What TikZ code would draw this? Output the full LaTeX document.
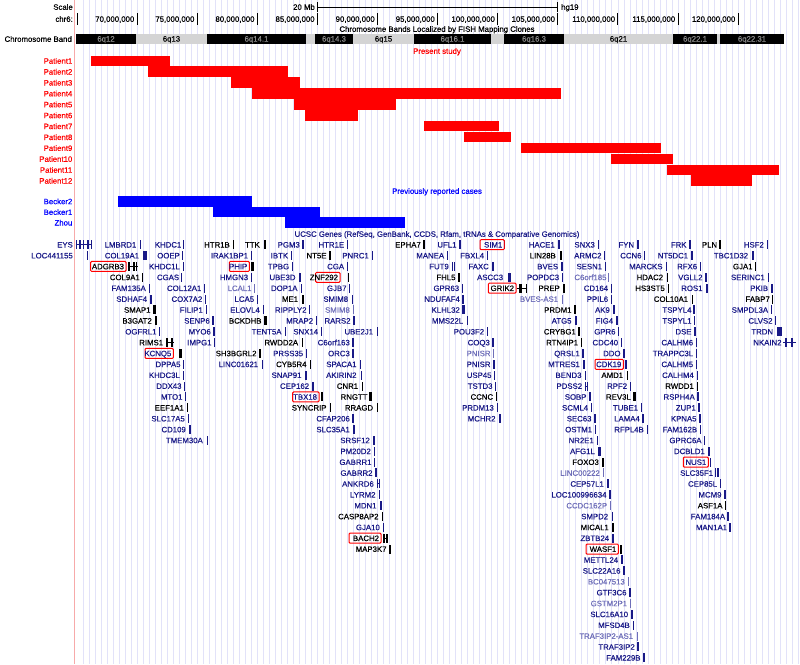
\documentclass[tikz,border=0pt]{standalone}
\usepackage{fontspec}
\setmainfont{Liberation Sans}[FakeBold=0.4]
\definecolor{nv}{RGB}{25,25,135}
\definecolor{lt}{RGB}{110,110,185}
\definecolor{bk}{RGB}{0,0,0}
\definecolor{gridc}{RGB}{226,226,249}
\definecolor{pinkc}{RGB}{247,170,170}
\definecolor{bandgr}{RGB}{212,212,212}
\definecolor{bandtx}{RGB}{140,140,140}
\tikzset{gl/.style={font=\fontsize{7.8}{9}\selectfont, inner sep=0pt, anchor=east, text height=5.6pt, text depth=0pt},
 ct/.style={gl, anchor=center}}
\newcommand\gene[6]{%
  \pgfmathsetmacro\gy{244.7+10.87*(#1)}%
  \node[gl,text=#3] at (#2,\gy) {#4};%
  \fill[#3] (#5,\gy-4.5) rectangle (#5+#6,\gy+4.5);%
}
\newcommand\gbox[8]{%
  \pgfmathsetmacro\gy{244.7+10.87*(#1)}%
  \draw[red, line width=1pt, rounded corners=1pt] (#2,\gy-5) rectangle (#3,\gy+5);%
  \node[gl,text=#4] at (#3-1.8,\gy) {#5};%
  \fill[#8] (#6,\gy-4.5) rectangle (#6+#7,\gy+4.5);%
}
\newcommand\gbar[4]{%
  \pgfmathsetmacro\gy{244.7+10.87*(#1)}%
  \fill[#4] (#2,\gy-4.5) rectangle (#2+#3,\gy+4.5);%
}
\newcommand\gline[4]{%
  \pgfmathsetmacro\gy{244.7+10.87*(#1)}%
  \draw[#4, line width=0.8pt] (#2,\gy) -- (#3,\gy);%
}
\begin{document}
\begin{tikzpicture}[x=1pt,y=-1pt]
\useasboundingbox (0,0) rectangle (800,664);
\fill[white] (0,0) rectangle (800,664);
% grid
\foreach \k in {1,...,120} { \draw[gridc, line width=0.8pt] (77+6.01*\k,0) -- (77+6.01*\k,664); }
\draw[pinkc, line width=1pt] (74.5,0) -- (74.5,664);
% header
\node[gl] (scl) at (73,7) {Scale};
\node[gl] (chr) at (73,19) {chr6:};
\coordinate (sb1) at (317.3,7); \coordinate (sb2) at (557.7,7);
\draw[line width=0.8pt] (sb1) -- (sb2);
\draw[line width=0.8pt] (317.3,2) -- (317.3,12);
\draw[line width=0.8pt] (557.7,2) -- (557.7,12);
\node[gl] (mb) at (315,7) {20 Mb};
\node[gl, anchor=west] (hg) at (561,7) {hg19};
\draw[line width=0.8pt] (77,13) -- (77,25);
\foreach \k/\lab in {0/70,1/75,2/80,3/85,4/90,5/95,6/100,7/105,8/110,9/115,10/120} {
  \pgfmathsetmacro\tx{137+60.1*\k}
  \draw[line width=0.8pt] (\tx,13) -- (\tx,25);
  \node[gl] at (\tx-2.5,19) {\lab,000,000};
}
\node[ct] (fish) at (437,29) {Chromosome Bands Localized by FISH Mapping Clones};
\node[gl] (cband) at (72,39) {Chromosome Band};
\foreach \a/\b/\c/\t/\l in {76/136/black/bandtx/6q12, 136/207/bandgr/black/6q13, 207/306/black/bandtx/6q14.1, 306/315/bandgr/black/, 315/353/black/bandtx/6q14.3, 353/414/bandgr/black/6q15, 414/491/black/bandtx/6q16.1, 491/504/bandgr/black/, 504/564/black/bandtx/6q16.3, 564/673/bandgr/black/6q21, 673/717/black/bandtx/6q22.1, 717/720/bandgr/black/, 720/784/black/bandtx/6q22.31} {
  \fill[\c] (\a,33.5) rectangle (\b,44);
  \node[ct, text=\t] at ({(\a+\b)/2},38.8) {\l};
}
\node[ct, text=red] (present) at (437,51) {Present study};
% patients
\foreach \i/\a/\b in {1/90.8/170.3, 2/148/288, 3/230.8/300, 4/252.3/560.5, 5/293.8/395.9, 6/305/358, 7/423.6/498.5, 8/463.6/511.3, 9/520.5/660.5, 10/610.8/673, 11/666.7/779, 12/691.3/752} {
  \pgfmathsetmacro\ty{55.5+10.9*(\i-1)}
  \fill[red] (\a,\ty) rectangle (\b,\ty+10.5);
  \node[gl, text=red] at (72.5,\ty+5.4) {Patient\i};
}
\node[ct, text=blue] (prev) at (437,191) {Previously reported cases};
\foreach \n/\a/\b/\ty in {Becker2/118/252.3/196, Becker1/212.8/319.5/206.7, Zhou/284.6/404.6/217.3} {
  \fill[blue] (\a,\ty) rectangle (\b,\ty+10.6);
  \node[gl, text=blue] at (72.5,\ty+5.4) {\n};
}
\node[ct, text=nv] (ucsc) at (437,234) {UCSC Genes (RefSeq, GenBank, CCDS, Rfam, tRNAs \& Comparative Genomics)};
% ---------- genes column A
\gene{0}{73}{nv}{EYS}{75.5}{1.5}
\gline{0}{75.5}{92}{nv}\gbar{0}{79.3}{1.5}{nv}\gbar{0}{82.7}{1.3}{nv}\gbar{0}{87}{1.5}{nv}\gbar{0}{90.5}{1.5}{nv}
\gene{1}{73}{nv}{LOC441155}{86.5}{1}
\gene{0}{136.5}{nv}{LMBRD1}{139.5}{1.5}
\gene{1}{139.3}{nv}{COL19A1}{143}{4}
\gbox{2}{90.7}{126}{bk}{ADGRB3}{128}{1.5}{bk}
\gline{2}{127.5}{137.5}{bk}\gbar{2}{133}{1.5}{bk}\gbar{2}{135.8}{1.5}{bk}
\gene{0}{181.5}{nv}{KHDC1}{183}{1.3}
\gene{1}{180}{nv}{OOEP}{182}{1.3}
\gene{2}{180}{nv}{KHDC1L}{182.5}{1.3}
\gene{3}{140}{bk}{COL9A1}{142}{1.3}
\gene{3}{179.3}{nv}{CGAS}{181}{1.3}
\gene{4}{146}{nv}{FAM135A}{148.5}{1.5}
\gene{4}{201.5}{nv}{COL12A1}{204}{1.3}
\gene{5}{147.3}{nv}{SDHAF4}{150}{1.5}
\gene{5}{202.5}{nv}{COX7A2}{205}{1.3}
\gene{6}{150.7}{bk}{SMAP1}{153}{2.5}
\gene{6}{203}{nv}{FILIP1}{206}{1.3}
\gene{7}{152}{bk}{B3GAT2}{155}{1.8}
\gene{7}{210}{nv}{SENP6}{212.3}{1.5}
\gene{8}{156.7}{nv}{OGFRL1}{159}{1.3}
\gene{8}{211}{nv}{MYO6}{213.3}{1.3}
\gene{9}{163.3}{bk}{RIMS1}{166}{2}
\gline{9}{166}{173.5}{bk}\gbar{9}{170.5}{2.5}{bk}
\gene{9}{211.7}{nv}{IMPG1}{214}{1.3}
\gbox{10}{145}{173.3}{nv}{KCNQ5}{179}{3}{bk}
\gene{11}{180.7}{nv}{DPPA5}{183}{1.3}
\gene{12}{180}{nv}{KHDC3L}{182.7}{1.3}
\gene{13}{181.7}{nv}{DDX43}{183.5}{1.3}
\gene{14}{182.7}{nv}{MTO1}{185}{1.3}
\gene{15}{184}{bk}{EEF1A1}{186.7}{1.3}
\gene{16}{185}{nv}{SLC17A5}{187.7}{1.3}
\gene{17}{186}{nv}{CD109}{188.7}{2.5}
\gene{18}{203}{nv}{TMEM30A}{206.5}{1.3}
% ---------- column B/C
\gene{0}{230}{bk}{HTR1B}{233}{1.3}
\gene{0}{260}{bk}{TTK}{263.5}{2}
\gene{0}{300}{nv}{PGM3}{302.3}{1.3}
\gene{0}{344.3}{nv}{HTR1E}{347}{1.3}
\gene{1}{248.3}{nv}{IRAK1BP1}{250.7}{1.3}
\gene{1}{288.3}{nv}{IBTK}{290.7}{1.3}
\gene{1}{326.7}{bk}{NT5E}{329.3}{1.3}
\gene{1}{369}{nv}{PNRC1}{371.7}{1.3}
\gbox{2}{229.3}{249.3}{nv}{PHIP}{251}{2.5}{bk}
\gene{2}{289.3}{nv}{TPBG}{291.7}{1.3}
\gene{2}{344.3}{nv}{CGA}{347}{1.3}
\gene{3}{248.3}{nv}{HMGN3}{250.7}{1.3}
\gene{3}{295.7}{nv}{UBE3D}{298.5}{2.5}
\gbox{3}{315.7}{340}{bk}{ZNF292}{347.5}{1.5}{bk}
\gene{4}{251.7}{lt}{LCAL1}{254.3}{1}
\gene{4}{297.7}{nv}{DOP1A}{300.7}{1.3}
\gene{4}{346.7}{nv}{GJB7}{349}{1.3}
\gene{5}{254.3}{nv}{LCA5}{257}{1.3}
\gene{5}{298.3}{bk}{ME1}{301.7}{2.7}
\gene{5}{348.3}{nv}{SMIM8}{351.5}{1.3}
\gene{6}{260}{nv}{ELOVL4}{262.7}{1.3}
\gene{6}{306.7}{nv}{RIPPLY2}{309}{1.3}
\gene{6}{350}{lt}{SMIM8}{353.3}{1}
\gene{7}{261.7}{bk}{BCKDHB}{264}{3}
\gene{7}{313.3}{nv}{MRAP2}{315.7}{1.3}
\gene{7}{350.7}{nv}{RARS2}{353.3}{1.3}
\gene{8}{281.7}{nv}{TENT5A}{285}{1.3}
\gene{8}{318.3}{nv}{SNX14}{321}{1.3}
\gene{8}{373.3}{nv}{UBE2J1}{376.7}{1.3}
\gene{9}{298.3}{bk}{RWDD2A}{301.7}{1.3}
\gene{9}{350}{nv}{C6orf163}{352.3}{1.3}
\gene{10}{256.7}{bk}{SH3BGRL2}{259.3}{1.3}
\gene{10}{303.3}{nv}{PRSS35}{306}{1.3}
\gene{10}{350}{nv}{ORC3}{352.3}{1.3}
\gene{11}{258.3}{nv}{LINC01621}{261.7}{1.3}
\gene{11}{306.7}{bk}{CYB5R4}{310}{1.3}
\gene{11}{356.7}{nv}{SPACA1}{360}{1.3}
\gene{12}{301.7}{nv}{SNAP91}{305}{2}
\gene{12}{356.7}{nv}{AKIRIN2}{360.5}{1.3}
\gene{13}{309.3}{nv}{CEP162}{312.3}{1.3}
\gene{13}{358.3}{bk}{CNR1}{361.7}{1.3}
\gbox{14}{292.7}{319}{nv}{TBX18}{320.5}{2}{bk}
\gene{14}{367.7}{bk}{RNGTT}{369}{3}
\gene{15}{326.7}{bk}{SYNCRIP}{330}{1.3}
\gene{15}{373.3}{bk}{RRAGD}{376.7}{1.3}
\gene{16}{350}{nv}{CFAP206}{352.3}{1.3}
\gene{17}{350}{nv}{SLC35A1}{353.3}{1.3}
\gene{18}{370}{nv}{SRSF12}{373.3}{1.3}
\gene{19}{371}{nv}{PM20D2}{373.8}{1.3}
\gene{20}{371.7}{nv}{GABRR1}{374}{1.3}
\gene{21}{372.7}{nv}{GABRR2}{375.3}{1.3}
\gene{22}{374}{nv}{ANKRD6}{377}{1}
\gline{22}{376.5}{380}{nv}\gbar{22}{379}{1}{nv}
\gene{23}{375.7}{nv}{LYRM2}{378.7}{1.3}
\gene{24}{376.7}{nv}{MDN1}{379.5}{2}
\gene{25}{378.7}{bk}{CASP8AP2}{381.7}{1.3}
\gene{26}{380}{nv}{GJA10}{382.7}{1.3}
\gbox{27}{349}{381}{bk}{BACH2}{383.3}{1.5}{bk}
\gline{27}{383.3}{387.5}{bk}\gbar{27}{386}{1.5}{bk}
\gene{28}{386.7}{bk}{MAP3K7}{389.3}{1.5}
% ---------- column D
\gene{0}{421}{bk}{EPHA7}{422.5}{2.5}
\gene{0}{456.7}{nv}{UFL1}{459.3}{1.3}
\gbox{0}{480}{504.3}{nv}{SIM1}{504}{0}{nv}
\gene{1}{444.3}{nv}{MANEA}{447}{1.3}
\gene{1}{484.3}{nv}{FBXL4}{486.7}{1.3}
\gene{2}{449}{nv}{FUT9}{451.5}{1.5}
\gbar{2}{454}{1}{nv}
\gene{2}{489}{nv}{FAXC}{491.5}{2}
\gene{3}{455.7}{bk}{FHL5}{458.3}{1.3}
\gene{3}{503.3}{nv}{ASCC3}{507.7}{3.3}
\gene{4}{459.3}{nv}{GPR63}{461.7}{1.3}
\gbox{4}{488.3}{516}{bk}{GRIK2}{519}{3}{bk}
\gline{4}{516.5}{527}{bk}\gbar{4}{526}{1}{bk}
\gene{5}{460}{nv}{NDUFAF4}{462.3}{1.3}
\gene{6}{460}{nv}{KLHL32}{462.3}{2.5}
\gene{7}{463.3}{nv}{MMS22L}{466.7}{1.5}
\gene{8}{484.3}{nv}{POU3F2}{486.7}{1.3}
\gene{9}{490}{nv}{COQ3}{492.3}{1.5}
\gene{10}{490.7}{lt}{PNISR}{492.7}{1}
\gene{11}{490.7}{nv}{PNISR}{493.3}{1.3}
\gene{12}{491.7}{nv}{USP45}{494}{1.3}
\gene{13}{492.7}{nv}{TSTD3}{495}{1.3}
\gene{14}{493.3}{bk}{CCNC}{495.7}{1.5}
\gene{15}{494}{nv}{PRDM13}{496.7}{1.3}
\gene{16}{495.7}{nv}{MCHR2}{499}{1.5}
% ---------- column E
\gene{0}{555}{nv}{HACE1}{557.7}{2.5}
\gene{1}{556}{bk}{LIN28B}{559.5}{2.5}
\gene{2}{558.3}{nv}{BVES}{561}{1.5}
\gene{3}{559.3}{nv}{POPDC3}{561.7}{1.3}
\gene{4}{560}{bk}{PREP}{562.7}{2.5}
\gene{5}{558.3}{lt}{BVES-AS1}{561.7}{1}
\gene{6}{571.7}{bk}{PRDM1}{574.3}{1.3}
\gene{7}{571.7}{nv}{ATG5}{575}{1.5}
\gene{8}{576}{bk}{CRYBG1}{578.3}{1.3}
\gene{9}{578.3}{bk}{RTN4IP1}{581}{1.3}
\gene{10}{580}{nv}{QRSL1}{582.3}{1.3}
\gene{11}{580}{nv}{MTRES1}{583.3}{1.3}
\gene{12}{581.7}{nv}{BEND3}{585}{1.3}
\gene{13}{582.3}{nv}{PDSS2}{584.5}{1}
\gline{13}{584.5}{587.5}{nv}\gbar{13}{586.5}{1}{nv}
\gene{14}{586.7}{nv}{SOBP}{589.3}{1.5}
\gene{15}{588.3}{nv}{SCML4}{591}{1.3}
\gene{16}{591.7}{nv}{SEC63}{594.3}{1.3}
\gene{17}{592.3}{nv}{OSTM1}{595}{1.3}
\gene{18}{594}{nv}{NR2E1}{596.7}{1.3}
\gene{19}{595}{nv}{AFG1L}{598}{2.5}
\gene{20}{599}{bk}{FOXO3}{601.5}{2}
\gene{21}{600}{lt}{LINC00222}{603.3}{1}
\gene{22}{604}{nv}{CEP57L1}{607.3}{1.3}
\gene{23}{606.7}{nv}{LOC100996634}{609.3}{1.3}
\gene{24}{607.3}{lt}{CCDC162P}{610}{1}
\gene{25}{608.3}{nv}{SMPD2}{611.7}{1.3}
\gene{26}{609}{bk}{MICAL1}{612.3}{1.3}
\gene{27}{609.3}{nv}{ZBTB24}{612.3}{1.3}
\gbox{28}{586}{618.3}{bk}{WASF1}{620}{1.5}{bk}
\gene{29}{618.3}{nv}{METTL24}{621}{2}
\gene{30}{620.7}{nv}{SLC22A16}{623.3}{1.5}
\gene{31}{625}{lt}{BC047513}{628.3}{1}
\gene{32}{626.7}{nv}{GTF3C6}{629.3}{1.3}
\gene{33}{627.3}{lt}{GSTM2P1}{630}{1}
\gene{34}{628.3}{nv}{SLC16A10}{631}{2}
\gene{35}{630}{nv}{MFSD4B}{632.7}{1.3}
\gene{36}{633.3}{lt}{TRAF3IP2-AS1}{636.7}{1}
\gene{37}{635}{nv}{TRAF3IP2}{636.7}{2}
\gene{38}{640.7}{nv}{FAM229B}{643.3}{1.3}
\gene{0}{595}{nv}{SNX3}{597.7}{1.3}
\gene{1}{601.7}{nv}{ARMC2}{604}{1.3}
\gene{2}{602.3}{nv}{SESN1}{605}{1.3}
\gene{3}{606.7}{lt}{C6orf185}{608.3}{1}
\gene{4}{608.3}{nv}{CD164}{611}{1.3}
\gene{5}{608.3}{nv}{PPIL6}{611}{1.3}
\gene{6}{610}{nv}{AK9}{612.5}{2}
\gene{7}{613.3}{nv}{FIG4}{615.5}{2}
\gene{8}{615.7}{nv}{GPR6}{617.7}{1.3}
\gene{9}{618.3}{nv}{CDC40}{621}{1.3}
\gene{10}{620.7}{nv}{DDO}{623.3}{1.3}
\gbox{11}{595}{623.3}{nv}{CDK19}{624.5}{2.5}{nv}
\gene{12}{623.3}{bk}{AMD1}{626.7}{1.3}
\gene{13}{627.3}{nv}{RPF2}{630}{1.3}
\gene{14}{631}{bk}{REV3L}{633.3}{2.5}
\gene{15}{638.3}{nv}{TUBE1}{641}{1.3}
\gene{16}{640}{nv}{LAMA4}{642.3}{2}
\gene{17}{644}{nv}{RFPL4B}{646.7}{1.3}
\gene{0}{634.3}{nv}{FYN}{637.3}{1.3}
\gene{1}{641.7}{nv}{CCN6}{644}{1.3}
\gene{2}{662.7}{nv}{MARCKS}{666}{1.3}
\gene{3}{663.3}{bk}{HDAC2}{666.7}{1.3}
\gene{4}{665}{bk}{HS3ST5}{667.7}{1.3}
% ---------- column F
\gene{0}{686.7}{nv}{FRK}{689}{2}
\gene{0}{717.3}{bk}{PLN}{719.3}{1.3}
\gene{0}{764}{nv}{HSF2}{766.7}{1.3}
\gene{1}{688.3}{nv}{NT5DC1}{691}{1.5}
\gene{1}{748.3}{nv}{TBC1D32}{751.7}{2.5}
\gene{2}{697.3}{nv}{RFX6}{700}{1.3}
\gene{2}{752.7}{bk}{GJA1}{755}{1.3}
\gene{3}{702.7}{nv}{VGLL2}{705.3}{1.3}
\gene{3}{765}{nv}{SERINC1}{767.7}{1.3}
\gene{4}{702.7}{nv}{ROS1}{706}{2.3}
\gene{4}{768.3}{nv}{PKIB}{770.5}{2}
\gene{5}{688.3}{bk}{COL10A1}{691.7}{1.3}
\gene{5}{770}{bk}{FABP7}{772}{1.3}
\gene{6}{691.7}{nv}{TSPYL4}{693.3}{1.3}
\gene{6}{768.3}{nv}{SMPDL3A}{771}{1.3}
\gene{7}{691.7}{nv}{TSPYL1}{694}{1.3}
\gene{7}{772.7}{nv}{CLVS2}{775}{1.3}
\gene{8}{691.7}{nv}{DSE}{694.3}{1.5}
\gene{8}{773.3}{nv}{TRDN}{776.7}{5}
\gene{9}{693.3}{nv}{CALHM6}{696}{1.3}
\gene{9}{781.7}{nv}{NKAIN2}{785}{1.5}
\gline{9}{783}{796}{nv}\gbar{9}{791}{1.5}{nv}
\gene{10}{693.3}{nv}{TRAPPC3L}{696}{1.3}
\gene{11}{693.3}{nv}{CALHM5}{696}{1.3}
\gene{12}{694}{nv}{CALHM4}{696.7}{1.3}
\gene{13}{694}{bk}{RWDD1}{696.7}{1.3}
\gene{14}{695}{nv}{RSPH4A}{697.3}{1.3}
\gene{15}{696}{nv}{ZUP1}{698.3}{1.3}
\gene{16}{696.7}{nv}{KPNA5}{699.3}{1.3}
\gene{17}{697.3}{nv}{FAM162B}{700}{1.3}
\gene{18}{701.7}{nv}{GPRC6A}{704}{1.3}
\gene{19}{705}{nv}{DCBLD1}{707.7}{2}
\gbox{20}{683.3}{708.3}{nv}{NUS1}{710}{1.3}{nv}
\gene{21}{713.3}{nv}{SLC35F1}{715}{1.2}
\gbar{21}{717}{1.5}{nv}
\gene{22}{717.3}{nv}{CEP85L}{720}{1.3}
\gene{23}{721.7}{nv}{MCM9}{724.3}{1.3}
\gene{24}{722.7}{bk}{ASF1A}{725}{1.3}
\gene{25}{725.3}{nv}{FAM184A}{727.3}{1.5}
\gene{26}{727.3}{nv}{MAN1A1}{729.3}{2}
\end{tikzpicture}
\end{document}
